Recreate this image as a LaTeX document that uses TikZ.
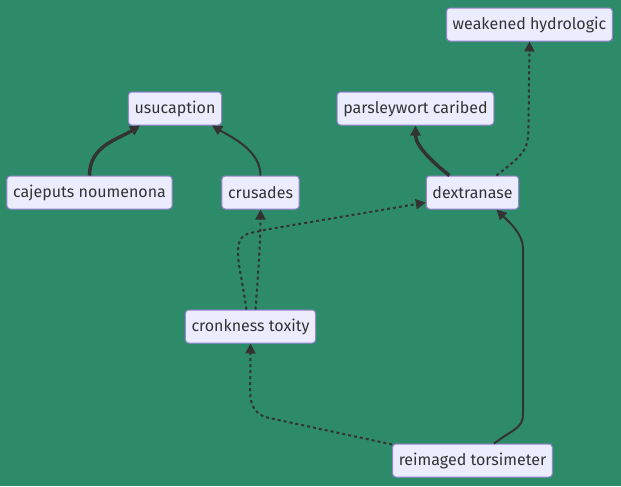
\documentclass[tikz,border=0pt]{standalone}
\usepackage{fontspec}
\setmainfont{Fira Sans}
\usetikzlibrary{arrows.meta,calc}
\definecolor{bggreen}{HTML}{2E8B6A}
\definecolor{boxfill}{HTML}{ECECFF}
\definecolor{boxline}{HTML}{9A82D6}
\definecolor{edgeline}{HTML}{333333}
\tikzset{
  box/.style={draw=boxline, fill=boxfill, rounded corners=2.5pt, line width=0.75pt,
    minimum height=24.75pt, inner xsep=4.6pt, inner ysep=0pt, text=edgeline,
    font=\fontsize{12}{14}\selectfont},
  link/.style={draw=edgeline, line width=1.5pt, -{Triangle[length=7.5pt,width=7.5pt]}},
  thicklink/.style={link, line width=2.6pt},
  dottedlink/.style={link, dash pattern=on 2.25pt off 2.25pt},
}
\begin{document}
\begin{tikzpicture}[x=0.75pt,y=-0.75pt]
		%%%%% START %%%%%
		
		\fill[bggreen] (0,0) rectangle (621,486);
		
		\node[box] (weak) at (529.5,24.5) {weakened hydrologic};
		\node[box] (usu) at (175,108.5) {usucaption};
		\node[box] (pars) at (415.5,108.5) {parsleywort caribed};
		\node[box] (caje) at (89.5,192.5) {cajeputs noumenona};
		\node[box] (crus) at (260.5,192.5) {crusades};
		\node[box] (dext) at (472.5,192.5) {dextranase};
		\node[box] (cronk) at (250.5,326.5) {cronkness toxity};
		\node[box] (reim) at (472.5,460.5) {reimaged torsimeter};
		
		\draw[thicklink] (caje.north) .. controls +(0,-30) and +(-22,14) .. ($(usu.south)+(-35,0)$);
		\draw[link] (crus.north) .. controls +(0,-25) and +(20,12) .. ($(usu.south)+(37,0)$);
		
		\draw[thicklink] ($(dext.north)+(-23,0)$) .. controls +(-18,-14) and +(0,20) .. (pars.south);
		\draw[dottedlink] ($(dext.north)+(24,0)$) .. controls +(28,-22) and +(0,25) .. ++(32,-50) -- (weak.south);
		
		\draw[dottedlink] ($(cronk.north)+(5,0)$) .. controls +(3,-40) and +(0,30) .. (crus.south);
		\draw[dottedlink] ($(cronk.north)+(-4,0)$) .. controls +(-6,-40) and +(-2,14) .. ++(-8,-64)
		  .. controls +(2,-14) and +(-14,4) .. ++(28,-16) -- ($(dext.south west)+(0,-7)$);
		
		\draw[dottedlink] ($(reim.north west)+(0,1)$) -- ++(-125,-27) .. controls +(-12,-3) and +(0,12) .. ++(-17,-25) -- (cronk.south);
		\draw[link] ($(reim.north)+(21.5,0)$) .. controls +(20,-15) and +(0,15) .. ++(29,-30) -- ++(0,-165)
		  .. controls +(0,-15) and +(12,12) .. ($(dext.south)+(24,0)$);
		
		%%%%% END %%%%%
	\end{tikzpicture}
\end{document}
